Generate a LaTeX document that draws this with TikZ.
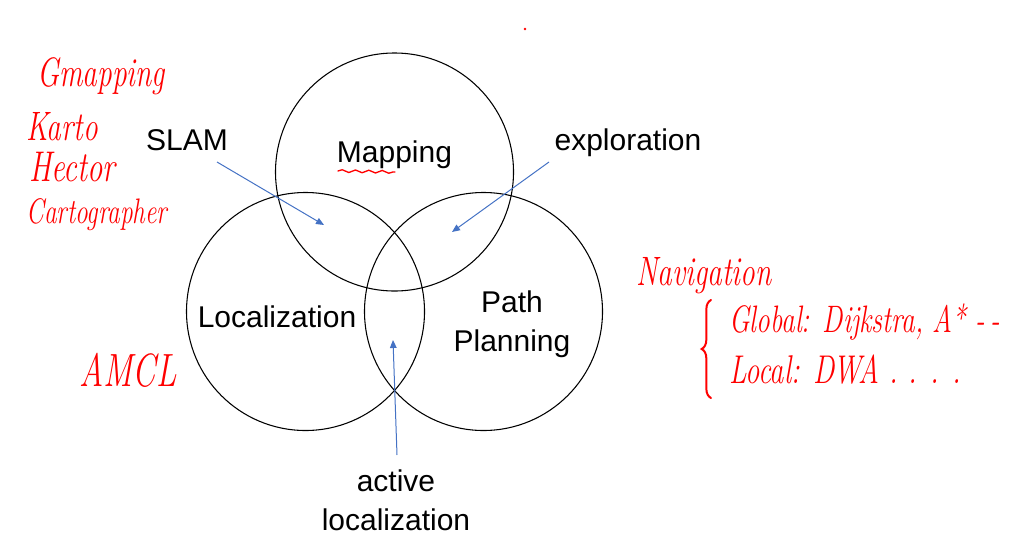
\documentclass[tikz,border=0pt]{standalone}
\usepackage{fontspec}
\usepackage{tikz}
\usetikzlibrary{arrows.meta,decorations.pathreplacing,decorations.pathmorphing}
\newfontfamily\labelfont{Liberation Sans}
\definecolor{arrowblue}{RGB}{68,114,196}
\definecolor{inkred}{RGB}{255,0,0}
\newcommand{\tallink}[1]{\scalebox{1}[1.4]{#1}}

\begin{document}
\begin{tikzpicture}[x=0.75pt,y=0.75pt,yscale=-1,xscale=1,
  set/.style={line width=0.8pt},
  tag/.style={font=\labelfont\fontsize{22.5}{29}\selectfont, inner sep=0.75pt, align=center},
  pointer/.style={color=arrowblue, line width=0.75pt, -{Triangle[length=6pt,width=5pt]}},
  ink/.style={text=inkred, inner sep=0.75pt, anchor=base west, font=\itshape\fontsize{#1}{#1}\selectfont},
  stroke/.style={draw=inkred, line width=1.5pt, line cap=round}
]
\useasboundingbox (0,0) rectangle (1010,557);

%Shape: Circle
\coordinate (mapc) at (394.5,172);
\draw [set] (mapc) circle [radius=119];
%Shape: Circle
\coordinate (locc) at (305.5,311.5);
\draw [set] (locc) circle [radius=119];
%Shape: Circle
\coordinate (planc) at (483.5,311.5);
\draw [set] (planc) circle [radius=119];

% Text Node
\node [tag, anchor=base] (slam) at (187,150) {SLAM};
% Text Node
\node [tag, anchor=base] (mapping) at (394.5,162) {Mapping};
% Text Node
\node [tag, anchor=base] (explore) at (628,150) {exploration};
% Text Node
\node [tag, anchor=base] (localize) at (277,327) {Localization};
% Text Node
\node [tag] (planning) at (512,324) {Path\\Planning};
% Text Node
\node [tag] (activeloc) at (396,500) {active\\localization};

%Straight Lines
\coordinate (slamtail) at (217,162);
\coordinate (slamhead) at (324,225);
\draw [pointer] (slamtail) -- (slamhead);
%Straight Lines
\coordinate (exptail) at (549,162);
\coordinate (exphead) at (452,232);
\draw [pointer] (exptail) -- (exphead);
%Straight Lines
\coordinate (acttail) at (397,455);
\coordinate (acthead) at (393,340);
\draw [pointer] (acttail) -- (acthead);

%Shape: Free Drawing
\draw [stroke, line width=1pt, decorate, decoration={snake, segment length=10pt, amplitude=1pt}] (338,171) -- (395,172);
%Shape: Free Drawing
\fill [inkred] (525,29) circle [radius=1.3];
%Shape: Brace
\draw [stroke, decorate, decoration={brace, amplitude=7pt}] (711,398) -- (711,300);

% Text Node
\node [ink=22] (gmapping) at (36,86) {\tallink{Gmapping}};
% Text Node
\node [ink=22] (karto) at (25,140) {\tallink{Karto}};
% Text Node
\node [ink=23] (hector) at (28,181) {\tallink{Hector}};
% Text Node
\node [ink=19] (carto) at (25,223) {\tallink{Cartographer}};
% Text Node
\node [ink=25] (amcl) at (78,386) {\tallink{AMCL}};
% Text Node
\node [ink=22] (navigation) at (635,285) {\tallink{Navigation}};
% Text Node
\node [ink=20.5] (global) at (728,332) {\tallink{Global: Dijkstra, A* -\,-}};
% Text Node
\node [ink=21.5] (local) at (728,383) {\tallink{Local: DWA . . . .}};

\end{tikzpicture}
\end{document}
